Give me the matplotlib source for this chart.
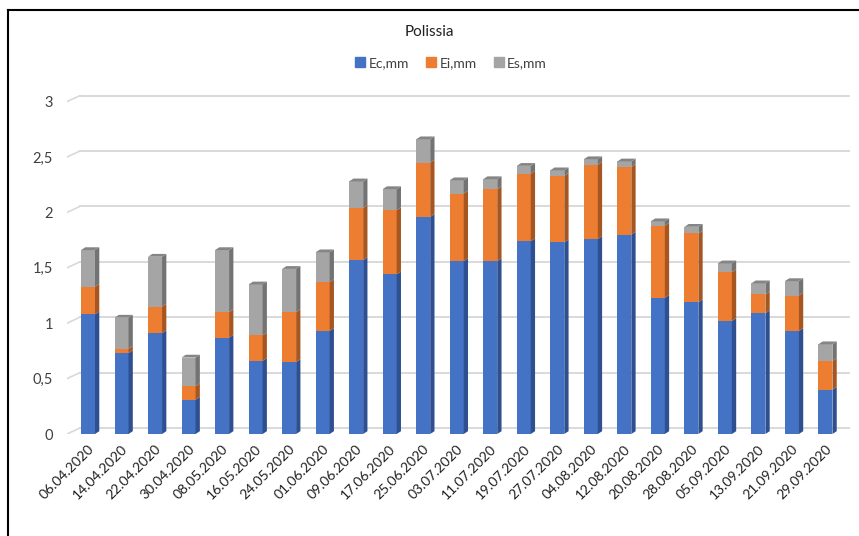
import numpy as np
import matplotlib.pyplot as plt
from matplotlib.patches import Polygon
from matplotlib.lines import Line2D

plt.rcParams['font.family'] = ['Lato', 'DejaVu Sans']

dates = ['06.04.2020', '14.04.2020', '22.04.2020', '30.04.2020', '08.05.2020',
         '16.05.2020', '24.05.2020', '01.06.2020', '09.06.2020', '17.06.2020',
         '25.06.2020', '03.07.2020', '11.07.2020', '19.07.2020', '27.07.2020',
         '04.08.2020', '12.08.2020', '20.08.2020', '28.08.2020', '05.09.2020',
         '13.09.2020', '21.09.2020', '29.09.2020']
ec = [1.08, 0.73, 0.91, 0.31, 0.87, 0.66, 0.65, 0.93, 1.57, 1.44, 1.96, 1.56,
      1.56, 1.74, 1.73, 1.76, 1.80, 1.23, 1.19, 1.02, 1.09, 0.93, 0.40]
ei = [0.25, 0.04, 0.24, 0.12, 0.23, 0.23, 0.45, 0.44, 0.47, 0.58, 0.49, 0.61,
      0.65, 0.61, 0.60, 0.67, 0.61, 0.65, 0.62, 0.44, 0.17, 0.32, 0.26]
es = [0.33, 0.28, 0.45, 0.26, 0.56, 0.46, 0.39, 0.27, 0.24, 0.19, 0.21, 0.12,
      0.09, 0.07, 0.05, 0.05, 0.05, 0.04, 0.06, 0.08, 0.10, 0.13, 0.15]
series = [('Ec,mm', ec), ('Ei,mm', ei), ('Es,mm', es)]
y_ticks = [0, 0.5, 1, 1.5, 2, 2.5, 3]
y_ticklabels = ['0', '0,5', '1', '1,5', '2', '2,5', '3']

front = ['#4472C4', '#ED7D31', '#A5A5A5']
side = ['#2F5090', '#A65621', '#737373']
cap = ['#3A62A8', '#C8692A', '#858585']

W, H = 859, 536
fig = plt.figure(figsize=(W / 100, H / 100), dpi=100)
# axes in pixel terms: front floor at y=434, plot from x=67 to 850
ax = fig.add_axes([67 / W, (H - 434) / H, (850 - 67) / W, (434 - 90) / H])
step = 33.52   # px per category
unit = 110.8   # px per value unit
ax.set_xlim(-(88 - 67) / step, (850 - 88) / step)
ax.set_ylim(0, (434 - 90) / unit)

x = np.arange(len(dates))
w = 14 / step
dx, dy = 4.3 / step, 2.8 / unit
fdx, fdy = 13 / step, 6 / unit

# back-wall gridlines with short floor stubs
x0, x1 = ax.get_xlim()
for v in y_ticks:
    ax.plot([x0 + fdx, x1], [v + fdy, v + fdy], color='#D9D9D9', lw=1.4, zorder=1)
    ax.plot([x0, x0 + fdx], [v, v + fdy], color='#D9D9D9', lw=1.2, zorder=1)

bottom = np.zeros(len(dates))
for k, (name, vals) in enumerate(series):
    vals = np.array(vals)
    ax.bar(x, vals, w, bottom=bottom, color=front[k], zorder=3, label=name,
           linewidth=0)
    for i in range(len(x)):
        b, t = bottom[i], bottom[i] + vals[i]
        r = x[i] + w / 2
        ax.add_patch(Polygon([(r, b), (r + dx, b + dy), (r + dx, t + dy), (r, t)],
                             closed=True, color=side[k], lw=0, zorder=3))
        if k == len(series) - 1:
            l = x[i] - w / 2
            ax.add_patch(Polygon([(l, t), (l + dx, t + dy), (r + dx, t + dy), (r, t)],
                                 closed=True, color=cap[k], lw=0, zorder=3))
    bottom = bottom + vals

ax.set_yticks(y_ticks)
ax.set_yticklabels(y_ticklabels, fontsize=10.5, color='#404040')
ax.tick_params(axis='y', length=0, pad=10)
ax.set_xticks([])
for i, d in enumerate(dates):
    ax.annotate(d, (x[i], 0), xytext=(4, -13), textcoords='offset pixels',
                rotation=45, ha='right', va='center', rotation_mode='anchor',
                fontsize=10, color='#202020', annotation_clip=False)
for s in ax.spines.values():
    s.set_visible(False)

fig.text(0.5, 1 - 32 / H, 'Polissia', ha='center', va='center',
         fontsize=11, color='#202020')
handles = [Line2D([], [], marker='s', ls='', color=c, markersize=7) for c in front]
fig.legend(handles, [s[0] for s in series], loc='center',
           bbox_to_anchor=(450 / W, 1 - 63 / H), ncol=3, frameon=False,
           fontsize=10, handletextpad=0.1, columnspacing=1.1, handlelength=1.0,
           labelcolor='#404040')

# outer frame
fig.add_artist(Line2D([8 / W, 8 / W], [0, 1 - 10 / H], color='black', lw=1.5))
fig.add_artist(Line2D([8 / W, 1], [1 - 10 / H, 1 - 10 / H], color='black', lw=1.5))

fig.savefig('out.png', dpi=100)
